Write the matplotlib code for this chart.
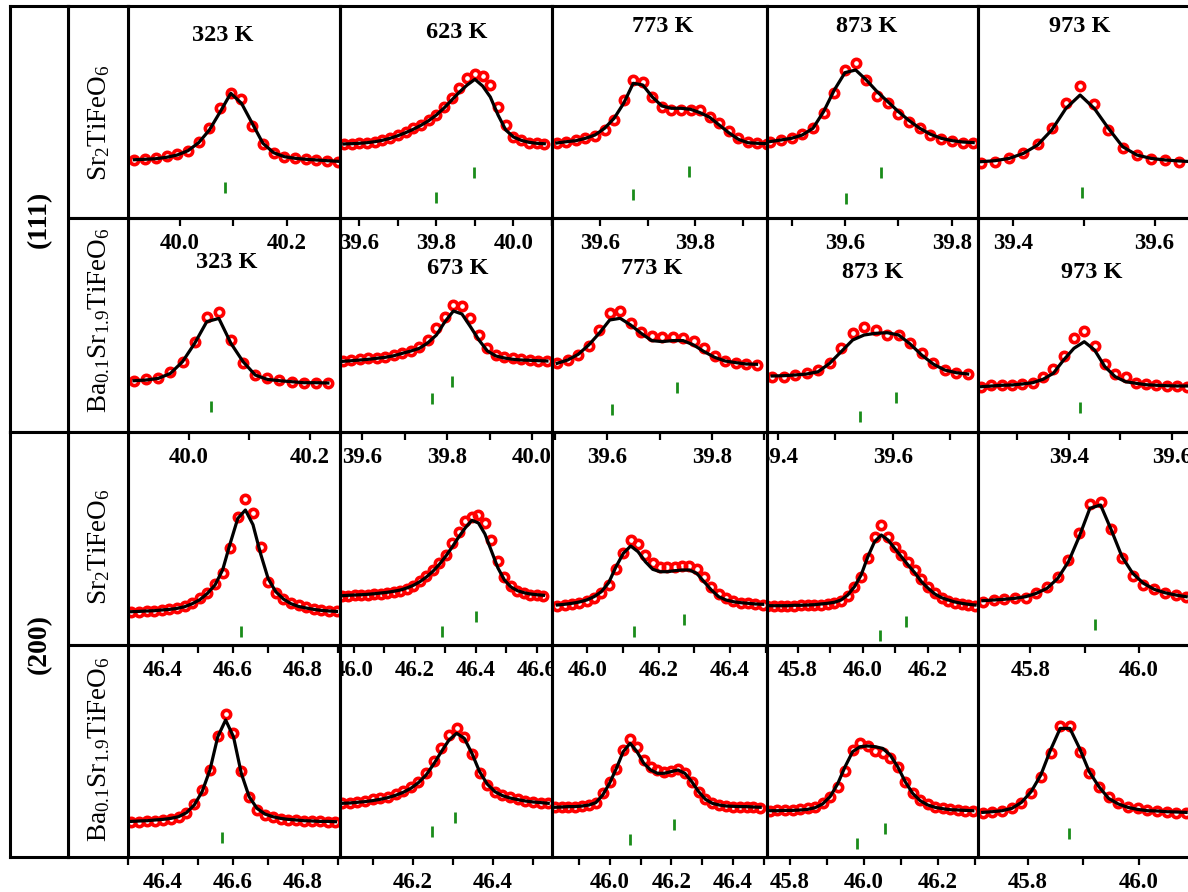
import numpy as np
import matplotlib.pyplot as plt
from matplotlib.transforms import Bbox, TransformedBbox

plt.rcParams['font.family'] = ['Liberation Serif', 'DejaVu Serif']
plt.rcParams['mathtext.fontset'] = 'custom'
plt.rcParams['mathtext.rm'] = 'Liberation Serif'
plt.rcParams['mathtext.it'] = 'Liberation Serif:italic'
plt.rcParams['mathtext.bf'] = 'Liberation Serif:bold'

# ---- data: intensity (a.u.) of observed points and fit, 2theta scan span, Bragg marks
# Sr2TiFeO6, (111)
a111_323_span = (39.915, 40.295)
a111_323_obs = [0, 0.7, 1.7, 4, 6, 9.3, 18.3, 31.7, 51.7, 67.3, 60.7, 34, 16, 6.7, 3.3, 1.7, 0.7, 0, -0.7, -1.7]
a111_323_fit = [0.3, 0.7, 1.3, 2.7, 5, 9.3, 17.3, 30, 48, 66.7, 56.7, 36.7, 16.7, 7.3, 3.3, 1.7, 0.7, 0, -0.7, -1.3]
a111_323_hkl = [40.084]
a111_323_lev = [-27]

a111_623_span = (39.56, 40.08)
a111_623_obs = [0, 0, 0.7, 1.3, 2.3, 4, 6.3, 9, 12.3, 15.7, 19, 24, 29, 37.3, 45.7, 55.7, 65.7, 70, 68, 59, 37.3, 19, 7.3, 4, 1.3, 0.7, 0]
a111_623_fit = [0, 0.3, 0.7, 1.3, 2.3, 3.7, 5.7, 8.3, 11.3, 14.7, 18.7, 23.3, 29, 36, 44, 52, 59, 64.7, 58, 47, 29, 14, 7, 3.7, 1.7, 0.7, 0.3]
a111_623_hkl = [39.80, 39.898]
a111_623_lev = [-53.5, -28.5]

a111_773_span = (39.51, 39.95)
a111_773_obs = [0.7, 2.3, 4, 5.7, 8, 14, 24, 44, 64, 62.3, 47.3, 37.3, 34, 34, 34, 34, 27.3, 20.7, 13.3, 5.7, 2.3, 0.7, 0]
a111_773_fit = [1, 2.3, 3.3, 5.7, 9, 15.7, 25.7, 40.7, 60.7, 59, 47, 38, 35.7, 35.7, 34.7, 31.3, 26.7, 19, 11.3, 4.7, 1.3, 0.7, 0.3]
a111_773_hkl = [39.67, 39.787]
a111_773_lev = [-50, -27]

a111_873_span = (39.46, 39.84)
a111_873_obs = [1.7, 3.3, 5, 9, 15, 30, 50.7, 73.3, 80.7, 63.3, 47.7, 40.7, 29.3, 21.7, 15, 8.3, 4, 2.7, 0.7, 0]
a111_873_fit = [1.7, 3.3, 5, 8.3, 15, 31.7, 53.3, 70.7, 73.3, 63.3, 51.7, 41.7, 31.7, 22.7, 15, 9, 5, 2.7, 1.3, 0.7]
a111_873_hkl = [39.602, 39.667]
a111_873_lev = [-55.7, -29.2]

a111_973_span = (39.355, 39.655)
a111_973_obs = [0, 1, 4.3, 9.3, 18.7, 34.3, 60, 76.7, 58.7, 32.7, 14.3, 7.7, 3.3, 2.7, 1, 0]
a111_973_fit = [1, 2, 4.3, 9.3, 17.7, 32.7, 54.3, 67.7, 54.3, 34.3, 16, 7.7, 4.3, 2.7, 1.7, 1]
a111_973_hkl = [39.498]
a111_973_lev = [-29.8]

# Ba0.1Sr1.9TiFeO6, (111)
b111_323_span = (39.91, 40.23)
b111_323_obs = [1.7, 3.3, 4.3, 11, 21, 41, 66, 71, 42.7, 19.3, 7.7, 4.3, 2.7, 1, 0, 0, -0.7]
b111_323_fit = [2, 2.7, 4.3, 9.3, 21, 39.3, 61, 64.3, 39.3, 21, 7.7, 3.3, 2, 1, 0, 0, -0.3]
b111_323_hkl = [40.037]
b111_323_lev = [-23.3]

b111_673_span = (39.555, 40.035)
b111_673_obs = [0.3, 1, 1.7, 2.7, 3.3, 4.3, 6, 8.3, 10.3, 14.3, 21, 32.7, 44.3, 56, 55, 42.7, 26, 12.7, 6, 3.7, 2.7, 1.7, 1, 0.3, 0]
b111_673_fit = [-0.3, 0.3, 1, 1.7, 2.7, 3.7, 5.3, 7.7, 10, 12.7, 18.3, 26, 39.3, 50, 47, 34.3, 21, 10, 5, 3, 1.7, 1, 0.7, 0.3, 0]
b111_673_hkl = [39.765, 39.812]
b111_673_lev = [-37.5, -20]

b111_773_span = (39.505, 39.885)
b111_773_obs = [1, 4.3, 9.3, 18.3, 34.3, 51.7, 53.7, 41.7, 32.7, 28.3, 27, 27.7, 26.7, 23.7, 16, 8.3, 3.7, 1.7, 0.3, -0.7]
b111_773_fit = [1, 4.3, 10, 19.3, 31, 44.3, 46, 39.3, 31, 23.7, 22.7, 23.7, 23.7, 19.3, 12.7, 7, 3.3, 1.7, 0.3, 0]
b111_773_hkl = [39.61, 39.734]
b111_773_lev = [-44.7, -23.2]

b111_873_span = (39.39, 39.73)
b111_873_obs = [-1.3, -0.7, 1, 2.7, 6, 13.3, 27.7, 42.7, 48.7, 46, 41, 41, 33.3, 23.3, 12.7, 6, 3.3, 2]
b111_873_fit = [0, 0.3, 1, 2, 4.3, 12.7, 24.3, 36, 41, 42.7, 43.3, 41, 32, 21, 12, 6, 3.3, 2]
b111_873_hkl = [39.543, 39.605]
b111_873_lev = [-40, -21.5]

b111_973_span = (39.23, 39.63)
b111_973_obs = [-1.3, 1, 1, 1, 1.7, 3.3, 9.3, 16.7, 30, 47.7, 55.3, 40, 22, 12, 8.7, 3.3, 2, 1, 0.3, 0, -0.7]
b111_973_fit = [-0.7, 0, 0.7, 1, 2, 3.3, 6.7, 12.7, 26, 37.7, 44.3, 36, 19.3, 9.3, 4.3, 2.7, 1.3, 0.7, 0.3, 0, 0]
b111_973_hkl = [39.422]
b111_973_lev = [-21.5]

# Sr2TiFeO6, (200)
a200_323_span = (46.31, 46.896)
a200_323_obs = [0, 0, 0.7, 1, 1.7, 2.3, 4, 6, 9, 13.3, 19, 27.7, 39, 63.3, 94.3, 112.3, 98.3, 65, 30, 19, 12.7, 9, 6.7, 4.7, 3, 1.7, 1, 0.7]
a200_323_fit = [0, 0.3, 0.7, 1, 1.7, 2.3, 3.3, 5, 8, 12, 18.3, 26.7, 41.7, 68.3, 93.3, 101.7, 87, 58, 33, 20, 12.7, 8, 5.3, 3.7, 2.3, 1.3, 0.7, 0.3]
a200_323_hkl = [46.622]
a200_323_lev = [-19.3]

a200_623_span = (45.96, 46.622)
a200_623_obs = [0, 0.3, 0.7, 1, 1.3, 2, 2.3, 3, 3.7, 5, 7, 10, 15.3, 20, 26, 32.7, 41, 52.7, 64.3, 75.3, 79.3, 81, 73.3, 56, 35.3, 19.3, 10, 5.3, 2.7, 1.3, 0.7, 0]
a200_623_fit = [0.3, 0.7, 1, 1.3, 1.7, 2.3, 3, 3.7, 4.7, 6, 8, 10.7, 14.3, 19, 24.7, 31.7, 40, 49.3, 59.3, 68.3, 75.7, 73, 62, 45, 28, 16, 9, 5.3, 3.3, 2, 1.3, 0.7]
a200_623_hkl = [46.29, 46.40]
a200_623_lev = [-35, -20.5]

a200_773_span = (45.916, 46.492)
a200_773_obs = [-1, 0, 1, 2.3, 4.3, 6.7, 11.7, 20, 35.7, 52.3, 65, 61, 50, 42.3, 38.3, 38.3, 38.3, 39, 39, 35.7, 27.7, 18.3, 11, 6.7, 4.3, 2.3, 1.7, 1, 0]
a200_773_fit = [0, 0.7, 1.7, 3, 5, 8.3, 13.3, 22.3, 38.3, 51.7, 59, 53.3, 43.3, 35.7, 33.3, 33.3, 34.3, 35, 35, 31.7, 23.3, 15, 8.3, 5, 3.3, 2.3, 1.7, 1, 0.7]
a200_773_hkl = [46.131, 46.272]
a200_773_lev = [-26, -14]

a200_873_span = (45.706, 46.345)
a200_873_obs = [0, 0, 0, 0.3, 0.3, 0.7, 0.7, 1, 1.3, 2, 3.3, 5.3, 10, 18.7, 29.3, 47.7, 69.3, 81, 69.3, 59.3, 51, 44.3, 36, 26.7, 19.3, 13.3, 7.7, 5.3, 3.3, 2, 1, 0]
a200_873_fit = [0.3, 0.3, 0.3, 0.3, 0.7, 0.7, 1, 1.3, 2, 2.7, 3.7, 6, 11, 19.3, 31, 49.3, 64.3, 71, 66, 57.7, 49.3, 41, 33.3, 24.3, 17.7, 12, 8.3, 6, 4, 2.7, 1.7, 1]
a200_873_hkl = [46.053, 46.132]
a200_873_lev = [-29, -15]

a200_973_span = (45.712, 46.088)
a200_973_obs = [-1.7, 0, 0.7, 1.7, 2.3, 6.7, 12.7, 23.3, 40, 67.3, 96, 98.3, 70.7, 41.7, 24, 15, 10.7, 6.7, 5, 3.3]
a200_973_fit = [-0.7, 0, 0.7, 1.7, 3.3, 6.7, 11.7, 21.7, 38.3, 63.3, 91.7, 95, 70, 43.3, 26.7, 16.7, 10.7, 7.3, 5, 3.3]
a200_973_hkl = [45.919]
a200_973_lev = [-24]

# Ba0.1Sr1.9TiFeO6, (200)
b200_323_span = (46.31, 46.893)
b200_323_obs = [0, 0, 0.7, 1, 1.7, 2.7, 5, 8.3, 17.7, 31.7, 51.7, 85.7, 107.7, 88.3, 51, 25, 11.7, 6.7, 4.3, 3, 2, 1.3, 1, 0.7, 0.3, 0, 0]
b200_323_fit = [0.3, 0.7, 1, 1.7, 2.3, 3.3, 5, 9, 16.7, 30, 51.7, 85, 101.7, 85, 48.3, 25, 13.3, 7.7, 5, 3.3, 2.3, 1.7, 1, 0.7, 0.3, 0.3, 0]
b200_323_hkl = [46.568]
b200_323_lev = [-15.8]

b200_673_span = (46.023, 46.538)
b200_673_obs = [0, 0.7, 1.7, 2.7, 4, 5.3, 6.7, 9, 12.3, 16, 21.7, 30, 42.7, 55, 68.3, 75, 66.7, 49.3, 30.7, 18.3, 11.7, 8, 6, 4, 2.7, 1.7, 0.7, 0]
b200_673_fit = [0, 0.3, 1, 1.7, 2.7, 4, 5.7, 8, 11, 15, 20.7, 28.3, 39.3, 51.7, 63.3, 70, 65, 50, 31.7, 19.3, 11.7, 7.7, 5.3, 3.7, 2.3, 1.3, 0.7, 0]
b200_673_hkl = [46.247, 46.304]
b200_673_lev = [-28.2, -14.2]

b200_773_span = (45.822, 46.488)
b200_773_obs = [0, 0.7, 0.7, 0.7, 1.3, 2.3, 4.7, 14, 25.7, 38, 57.3, 68, 60.7, 47.3, 40.7, 37.3, 35.7, 36.7, 38, 34.7, 25.7, 15.7, 8, 4, 2.3, 1.3, 0.7, 0.7, 0, 0, -1]
b200_773_fit = [0, 0.3, 0.7, 0.7, 1.3, 2.3, 4.7, 12.3, 24, 39, 55.7, 64, 55.7, 44, 37.3, 34, 34, 35.7, 37.3, 34, 25.7, 15.7, 8, 4, 2.3, 1.3, 1, 0.7, 0.7, 0.3, 0]
b200_773_hkl = [46.065, 46.21]
b200_773_lev = [-32.2, -17.2]

b200_873_span = (45.746, 46.294)
b200_873_obs = [0, 0.7, 0.7, 0.7, 1.3, 2.3, 3.3, 7.3, 14, 24, 40, 60.7, 67.3, 64.7, 60, 57.3, 52.3, 44, 29, 17.3, 10.7, 6.7, 4, 2.3, 1.3, 0.7, 0, 0]
b200_873_fit = [0, 0, 0.3, 0.3, 0.7, 1.3, 3, 6.7, 14, 26.7, 44, 59, 64, 64.7, 64, 62.3, 55.7, 44, 29, 17.3, 10, 5.7, 3.3, 2, 1, 0.7, 0.3, 0]
b200_873_hkl = [45.98, 46.057]
b200_873_lev = [-32.3, -17.8]

b200_973_span = (45.7185, 46.086)
b200_973_obs = [-1, 0, 1, 3.3, 9, 19, 35, 59, 85.7, 85.7, 60, 38.3, 25, 14.3, 8.3, 5, 3.3, 1.7, 1, 0, -1, -1.7]
b200_973_fit = [-0.7, 0, 1, 3.3, 9.3, 20, 36.7, 61.7, 83.3, 83.3, 63.3, 40, 25, 13.3, 7.7, 4.3, 2.3, 1, 0.7, 0, -0.3, -0.7]
b200_973_hkl = [45.875]
b200_973_lev = [-21.3]

# 2theta windows and intensity windows of each panel
xlims = [[(39.903, 40.299), (39.55, 40.10), (39.50, 39.95), (39.454, 39.849), (39.351, 39.65)],
         [(39.90, 40.25), (39.548, 40.047), (39.495, 39.905), (39.381, 39.748), (39.224, 39.635)],
         [(46.30, 46.906), (45.954, 46.65), (45.901, 46.504), (45.705, 46.354), (45.703, 46.095)],
         [(46.30, 46.906), (46.0175, 46.5475), (45.813, 46.51), (45.738, 46.308), (45.71, 46.093)]]
ylims = [[(-58, 154), (-74, 138), (-74, 138), (-74.7, 137.3), (-55.3, 156.7)],
         [(-49.3, 164.7), (-71, 143), (-67.7, 146.3), (-56, 158), (-46, 168)],
         [(-33.3, 179.7), (-49, 164), (-40, 173), (-39, 174), (-45, 168)],
         [(-35.3, 176.7), (-53.7, 158.3), (-49.7, 162.3), (-46.3, 165.7), (-45.3, 166.7)]]

temps_a111 = ['323 K', '623 K', '773 K', '873 K', '973 K']
temps_b111 = ['323 K', '673 K', '773 K', '873 K', '973 K']
samples = [r'Sr$_2$TiFeO$_6$', r'Ba$_{0.1}$Sr$_{1.9}$TiFeO$_6$',
           r'Sr$_2$TiFeO$_6$', r'Ba$_{0.1}$Sr$_{1.9}$TiFeO$_6$']
reflections = ['(111)', '(200)']

g = globals()
rows = []
for key in ['a111', 'b111', 'a200', 'b200']:
    temps = ['323', '623', '773', '873', '973'] if key[0] == 'a' else ['323', '673', '773', '873', '973']
    rows.append([tuple(g[f'{key}_{t}_{s}'] for s in ('span', 'obs', 'fit', 'hkl', 'lev')) for t in temps])

# ---- layout (pixels)
W, H = 1188, 892
col_edges = [128, 340, 552, 767, 978, 1190]
row_edges = [6, 218, 432, 645, 857]
lw_frame = 2.2

title_pos = [[(0.448, 0.863), (0.552, 0.877), (0.516, 0.901), (0.474, 0.901), (0.481, 0.901)],
             [(0.467, 0.79), (0.557, 0.766), (0.465, 0.766), (0.502, 0.743), (0.538, 0.743)]]
sample_y = [0.45, 0.52, 0.46, 0.51]

fig = plt.figure(figsize=(W / 100, H / 100), dpi=100)


def px_axes(x0, y0, x1, y1):
    return fig.add_axes([x0 / W, 1 - y1 / H, (x1 - x0) / W, (y1 - y0) / H])


for r in range(4):
    for c in range(5):
        span, obs, fit, hkl, lev = rows[r][c]
        x0, x1 = col_edges[c], col_edges[c + 1]
        ax = px_axes(x0, row_edges[r], x1, row_edges[r + 1])
        ax.patch.set_visible(False)
        xs = np.linspace(span[0], span[1], len(obs))
        ax.plot(xs, obs, 'o', ms=6.0, mew=2.6, mec='#ff0000', mfc='none', zorder=2)
        ax.plot(xs, fit, color='black', lw=2.3, zorder=3)
        for h, l in zip(hkl, lev):
            ax.plot([h, h], [l - 5.5, l + 5.5], color='#1a8c1a', lw=2.0, solid_capstyle='butt')
        ax.set_xlim(*xlims[r][c])
        ax.set_ylim(*ylims[r][c])
        lo, hi = xlims[r][c]
        majors = [v / 10 for v in range(int(np.ceil(lo * 5 - 1e-6)) * 2, int(hi * 10) + 1, 2)]
        minors = [v / 10 for v in range(int(np.ceil(lo * 10 - 1e-6)), int(hi * 10) + 1)]
        ax.set_xticks(majors, labels=[f'{v:.1f}' for v in majors], fontweight='bold')
        ax.set_xticks(minors, minor=True)
        ax.tick_params(axis='x', which='both', direction='out', length=6, width=1.6,
                       labelsize=16.5, pad=4.5)
        ax.tick_params(axis='y', left=False, labelleft=False)
        for sp in ax.spines.values():
            sp.set_linewidth(lw_frame)
        clip = TransformedBbox(Bbox.from_extents(x0 / W, 0, x1 / W, 1), fig.transFigure)
        for t in ax.xaxis.get_major_ticks():
            t.label1.set_clip_box(clip)
            t.label1.set_clip_on(True)
        if r < 2:
            temps = temps_a111 if r == 0 else temps_b111
            tx, ty = title_pos[r][c]
            ax.text(tx, ty, temps[c], transform=ax.transAxes, ha='center', va='center',
                    fontsize=17.5, fontweight='bold')

# sample names
for r in range(4):
    ax = px_axes(68, row_edges[r], 128, row_edges[r + 1])
    ax.set_xticks([])
    ax.set_yticks([])
    for sp in ax.spines.values():
        sp.set_linewidth(lw_frame)
    ax.text(0.52, sample_y[r], samples[r], rotation=90, ha='center', va='center',
            fontsize=19.5, transform=ax.transAxes)

# reflection labels
for i in range(2):
    ax = px_axes(10, row_edges[2 * i], 68, row_edges[2 * i + 2])
    ax.set_xticks([])
    ax.set_yticks([])
    for sp in ax.spines.values():
        sp.set_linewidth(lw_frame)
    ax.text(0.5, 0.5, reflections[i], rotation=90, ha='center', va='center',
            fontsize=20, fontweight='bold', transform=ax.transAxes)

fig.savefig('out.png', dpi=100)
